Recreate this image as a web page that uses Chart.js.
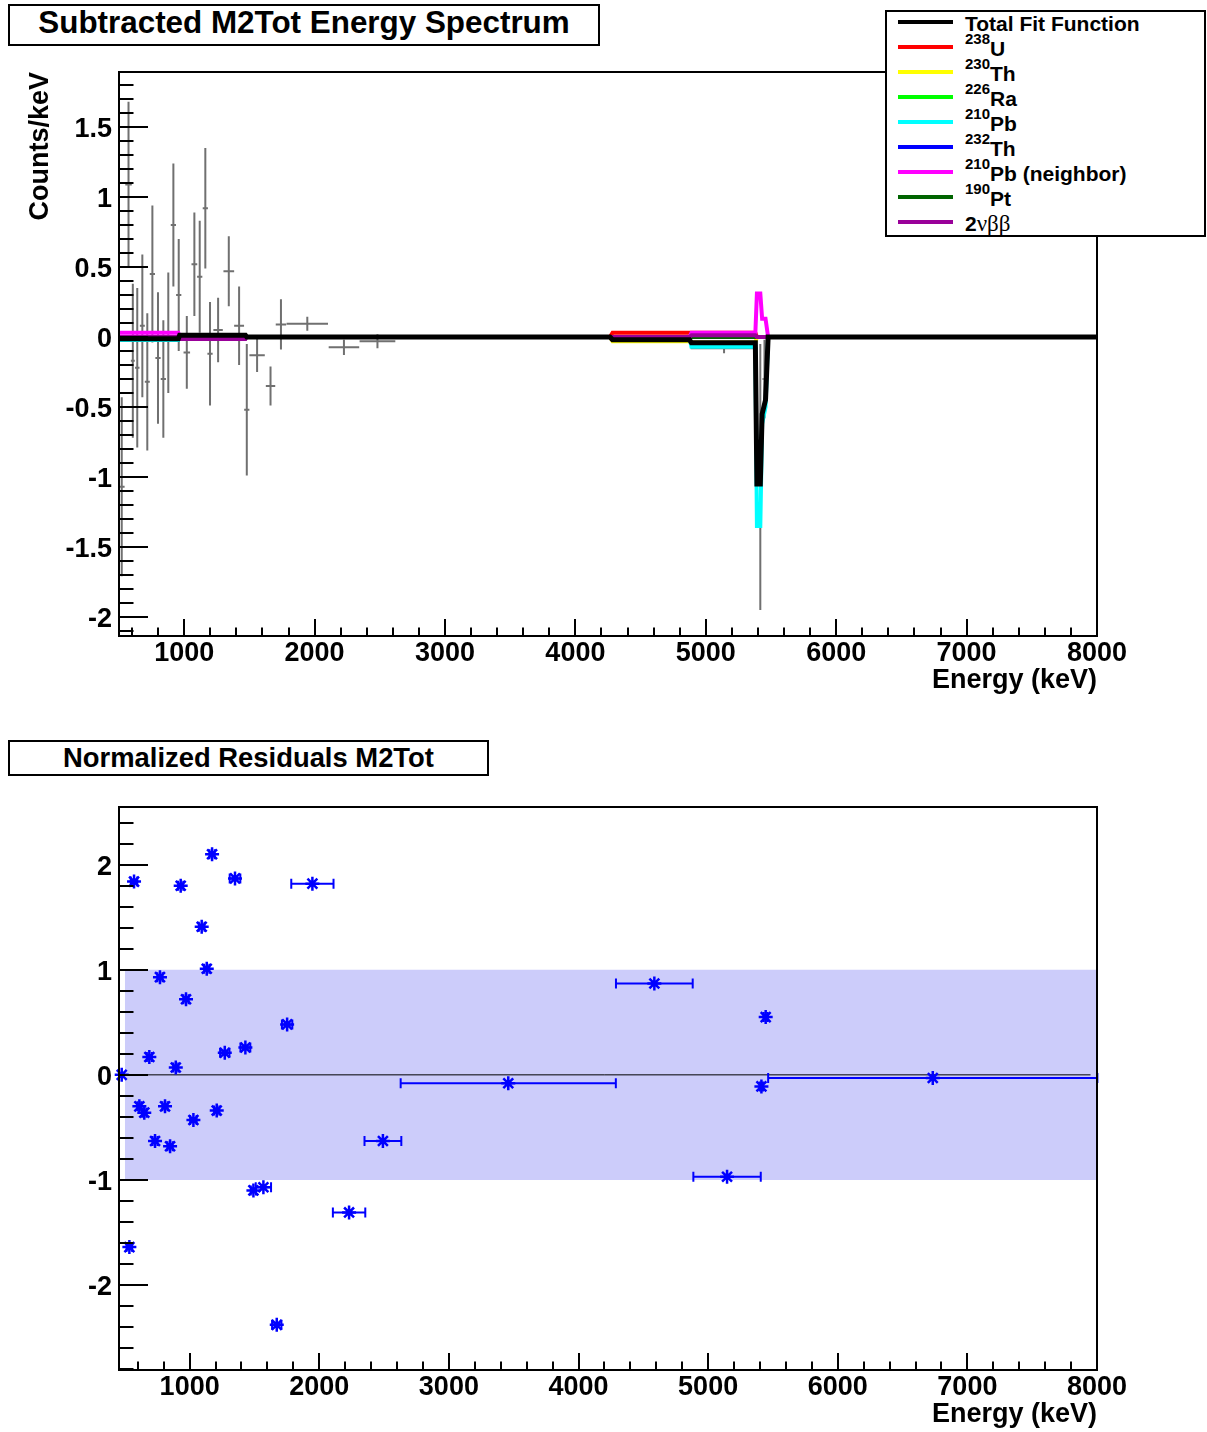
<!DOCTYPE html>
<html>
<head>
<meta charset="utf-8">
<title>Subtracted M2Tot Energy Spectrum</title>
<script src="https://cdn.jsdelivr.net/npm/chart.js@4.4.1/dist/chart.umd.min.js"></script>
<style>
  html, body { margin: 0; padding: 0; background: #fff; }
  body { position: relative; width: 1207px; height: 1432px; overflow: hidden;
         font-family: "Liberation Sans", Arial, Helvetica, sans-serif; color: #000; }
  canvas { position: absolute; left: 0; }
  #topPlot { top: 0; }
  #botPlot { top: 720px; }
  .pave { position: absolute; box-sizing: border-box; border: 2px solid #000;
          background: #fff; font-weight: bold; white-space: nowrap; }
  #title1 { left: 8px; top: 4px; width: 592px; height: 42px; line-height: 34px;
            font-size: 31.4px; text-align: center; }
  #title2 { left: 8px; top: 740px; width: 481px; height: 36px; line-height: 32px;
            font-size: 27.4px; text-align: center; }
  #legend { left: 885px; top: 10px; width: 321px; height: 227px; font-size: 21px; }
  #legend .row { position: absolute; left: 0; width: 100%; height: 24px; }
  #legend .sw { position: absolute; left: 11px; top: 10px; width: 55px; height: 4px; }
  #legend .lab { position: absolute; left: 78px; top: 2px; line-height: 24px; }
  #legend sup { font-size: 15px; vertical-align: baseline; position: relative; top: -12px; }
  #legend .sym { font-family: "Liberation Serif", "DejaVu Serif", serif; font-weight: normal; font-size: 23px; }
</style>
</head>
<body>
<canvas id="topPlot" width="1207" height="720"></canvas>
<canvas id="botPlot" width="1207" height="712"></canvas>
<div class="pave" id="title1">Subtracted M2Tot Energy Spectrum</div>
<div class="pave" id="title2">Normalized Residuals M2Tot</div>
<div class="pave" id="legend"></div>
<script>
// ---- axis tick labels ----
const energyTicks = [1000, 2000, 3000, 4000, 5000, 6000, 7000, 8000];
const countTicks = [-2, -1.5, -1, -0.5, 0, 0.5, 1, 1.5];
const residTicks = [-2, -1, 0, 1, 2];

// ---- top pad: subtracted spectrum, one entry per bin (keV, counts/keV) ----
const binCentre = [521, 573, 606, 640, 679, 717, 756, 799, 840, 878, 917, 958, 1020, 1078, 1119, 1162, 1198,
                   1260, 1342, 1421, 1480, 1559, 1662, 1742, 1944, 2225, 2482, 3457, 4588, 5140, 5418, 5450, 6740];
const binHalf = [22, 25, 15, 17, 19, 19, 20, 20, 20, 19, 20, 20, 25, 22, 20, 20, 20,
                 36, 41, 38, 20, 59, 36, 40, 159, 117, 137, 830, 300, 256, 12, 15, 1265];
const counts = [-1.07, 1.09, -0.17, -0.22, 0.08, -0.32, 0.45, -0.15, -0.30, 0.03, 0.80, 0.30, -0.11, 0.52, 0.43, 0.92, -0.12,
                0.05, 0.47, 0.08, -0.52, -0.13, -0.35, 0.09, 0.095, -0.074, -0.031, -0.001, -0.022, -0.08, -1.0, -0.30, 0.0];
const countsErr = [0.64, 0.59, 0.55, 0.57, 0.51, 0.49, 0.49, 0.47, 0.42, 0.43, 0.44, 0.40, 0.26, 0.37, 0.40, 0.43, 0.37,
                   0.23, 0.25, 0.28, 0.47, 0.12, 0.14, 0.18, 0.05, 0.054, 0.05, 0.012, 0.01, 0.036, 0.95, 0.28, 0.004];

// fit components, sampled on a common energy grid
const fitEnergy = [500, 955, 965, 1470, 1480, 4265, 4285, 4875, 4890, 5380, 5392, 5418, 5432, 5458, 5478, 8000];
const fitTotal  = [-0.012, -0.012, 0.012, 0.012, 0, 0, -0.02, -0.02, -0.042, -0.042, -1.05, -1.05, -0.55, -0.45, 0, 0];
const fitU238   = [0, 0, 0, 0, 0, 0, 0.03, 0.03, 0.03, 0.03, 0, 0, 0, 0, 0, 0];
const fitTh230  = [0, 0, 0, 0, 0, 0, -0.03, -0.03, -0.04, -0.04, 0, 0, 0, 0, 0, 0];
const fitRa226  = [0, 0, 0, 0, 0, 0, 0, 0, 0, 0, 0, 0, 0, 0, 0, 0];
const fitPb210  = [-0.022, -0.022, 0, 0, 0, 0, 0, 0, -0.07, -0.07, -1.35, -1.35, -0.62, -0.5, 0, 0];
const fitTh232  = [0, 0, 0, 0, 0, 0, 0, 0, 0, 0, 0, 0, 0, 0, 0, 0];
const fitPb210n = [0.03, 0.03, 0, 0, 0, 0, 0, 0, 0.03, 0.03, 0.31, 0.31, 0.13, 0.13, 0, 0];
const fitPt190  = [0, 0, 0, 0, 0, 0, 0, 0, 0, 0, 0, 0, 0, 0, 0, 0];
const fit2vbb   = [0, 0, -0.015, -0.015, 0, 0, 0, 0, 0.012, 0.012, 0, 0, 0, 0, 0, 0];

const compNames = ['Total Fit Function', '<sup>238</sup>U', '<sup>230</sup>Th', '<sup>226</sup>Ra', '<sup>210</sup>Pb',
                   '<sup>232</sup>Th', '<sup>210</sup>Pb (neighbor)', '<sup>190</sup>Pt', '2<span class="sym">&nu;&beta;&beta;</span>'];
const compColors = ['#000000', '#ff0000', '#ffff00', '#00ff00', '#00ffff', '#0000ff', '#ff00ff', '#006400', '#990099'];
const compValues = [fitTotal, fitU238, fitTh230, fitRa226, fitPb210, fitTh232, fitPb210n, fitPt190, fit2vbb];

// ---- bottom pad: normalized residuals ----
const resCentre = [476, 535, 571, 612, 650, 689, 733, 771, 810, 849, 893, 931, 972, 1029, 1093, 1132, 1173, 1209,
                   1271, 1350, 1430, 1492, 1569, 1672, 1752, 1947, 2230, 2491, 3458, 4585, 5146, 5411, 5444, 6733];
const resHalf = [0, 22, 25, 15, 17, 19, 19, 20, 20, 20, 19, 20, 20, 25, 22, 20, 20, 20,
                 36, 41, 38, 20, 59, 36, 40, 163, 125, 142, 830, 296, 260, 12, 15, 1270];
const residual = [0, -1.64, 1.84, -0.30, -0.36, 0.17, -0.63, 0.93, -0.30, -0.68, 0.07, 1.80, 0.72, -0.43, 1.41, 1.01, 2.10, -0.34,
                  0.21, 1.87, 0.26, -1.10, -1.07, -2.38, 0.48, 1.82, -1.31, -0.63, -0.08, 0.87, -0.97, -0.11, 0.55, -0.03];

Chart.defaults.font.family = '"Liberation Sans", Arial, Helvetica, sans-serif';
Chart.defaults.color = '#000';

var tickFont = { size: 27, weight: 'bold' };

function pts(xs, ys) {
    return xs.map(function (x, i) { return { x: x, y: ys[i] }; });
}

// ROOT style frame: box round the pad plus ticks pointing inwards
var rootFrame = {
    id: 'rootFrame',
    afterDatasetsDraw: function (chart, args, o) {
        var ctx = chart.ctx, a = chart.chartArea, xs = chart.scales.x, ys = chart.scales.y;
        ctx.save();
        ctx.strokeStyle = '#000';
        ctx.lineWidth = 2;
        ctx.beginPath();
        var n, v, p, major;
        for (n = Math.ceil(ys.min / o.yMinor - 1e-9); n <= Math.floor(ys.max / o.yMinor + 1e-9); n++) {
            v = n * o.yMinor;
            major = Math.abs(v / o.yMajor - Math.round(v / o.yMajor)) < 1e-6;
            p = Math.round(ys.getPixelForValue(v));
            ctx.moveTo(a.left, p);
            ctx.lineTo(a.left + (major ? o.yLen : o.yLen / 2), p);
        }
        for (n = Math.ceil(xs.min / o.xMinor - 1e-9); n <= Math.floor(xs.max / o.xMinor + 1e-9); n++) {
            v = n * o.xMinor;
            major = Math.abs(v / o.xMajor - Math.round(v / o.xMajor)) < 1e-6;
            p = Math.round(xs.getPixelForValue(v));
            ctx.moveTo(p, a.bottom);
            ctx.lineTo(p, a.bottom - (major ? o.xLen : o.xLen / 2));
        }
        ctx.stroke();
        ctx.strokeRect(a.left, a.top, a.right - a.left, a.bottom - a.top);
        ctx.restore();
    }
};

// grey data points with x and y error bars, drawn under the fit curves
var dataBars = {
    id: 'dataBars',
    beforeDatasetsDraw: function (chart) {
        var ctx = chart.ctx, a = chart.chartArea, x = chart.scales.x, y = chart.scales.y;
        ctx.save();
        ctx.beginPath();
        ctx.rect(a.left, a.top, a.right - a.left, a.bottom - a.top);
        ctx.clip();
        ctx.strokeStyle = '#707070';
        ctx.lineWidth = 2;
        ctx.beginPath();
        binCentre.forEach(function (c, i) {
            var px = x.getPixelForValue(c), py = y.getPixelForValue(counts[i]);
            ctx.moveTo(px, y.getPixelForValue(counts[i] - countsErr[i]));
            ctx.lineTo(px, y.getPixelForValue(counts[i] + countsErr[i]));
            ctx.moveTo(x.getPixelForValue(c - binHalf[i]), py);
            ctx.lineTo(x.getPixelForValue(c + binHalf[i]), py);
        });
        ctx.stroke();
        ctx.restore();
    }
};

// horizontal (bin width) bars on the residual points
var resBars = {
    id: 'resBars',
    afterDatasetsDraw: function (chart) {
        var ctx = chart.ctx, a = chart.chartArea, x = chart.scales.x, y = chart.scales.y;
        ctx.save();
        ctx.beginPath();
        ctx.rect(a.left, a.top, a.right - a.left + 2, a.bottom - a.top);
        ctx.clip();
        ctx.strokeStyle = '#0000ff';
        ctx.lineWidth = 2;
        ctx.beginPath();
        resCentre.forEach(function (c, i) {
            if (!resHalf[i]) return;
            var py = y.getPixelForValue(residual[i]);
            var x0 = x.getPixelForValue(c - resHalf[i]), x1 = x.getPixelForValue(c + resHalf[i]);
            ctx.moveTo(x0, py); ctx.lineTo(x1, py);
            ctx.moveTo(x0, py - 5); ctx.lineTo(x0, py + 5);
            ctx.moveTo(x1, py - 5); ctx.lineTo(x1, py + 5);
        });
        ctx.stroke();
        ctx.restore();
    }
};

function xScale(min, height, titlePad) {
    return {
        type: 'linear', position: 'bottom', min: min, max: 8000,
        grid: { display: false }, border: { display: false },
        afterBuildTicks: function (s) { s.ticks = energyTicks.map(function (v) { return { value: v }; }); },
        afterFit: function (s) { s.height = height; },
        ticks: { font: tickFont, autoSkip: false, maxRotation: 0, padding: -7,
                 callback: function (v) { return String(v); } },
        title: { display: true, text: 'Energy (keV)', align: 'end', font: tickFont,
                 padding: { top: 0, bottom: titlePad } }
    };
}

function yScale(min, max, tickList, title) {
    return {
        type: 'linear', position: 'left', min: min, max: max,
        grid: { display: false }, border: { display: false },
        afterBuildTicks: function (s) { s.ticks = tickList.map(function (v) { return { value: v }; }); },
        afterFit: function (s) { s.width = 119; },
        ticks: { font: tickFont, autoSkip: false, padding: -1, labelOffset: 3,
                 callback: function (v) { return String(v); } },
        title: { display: !!title, text: title, align: 'end', font: tickFont,
                 padding: { top: 24, bottom: 0 } }
    };
}

// ---- top chart ----
var topSets = compValues.map(function (vals, i) {
    return {
        type: 'line',
        data: pts(fitEnergy, vals),
        borderColor: compColors[i],
        borderWidth: i === 0 ? 5 : 4,
        pointRadius: 0,
        tension: 0,
        fill: false,
        order: i === 0 ? 0 : 9 - i
    };
});

new Chart(document.getElementById('topPlot'), {
    type: 'line',
    data: { datasets: topSets },
    options: {
        responsive: false, animation: false, events: [], devicePixelRatio: 1,
        layout: { padding: { left: 0, top: 72, right: 110, bottom: 0 } },
        plugins: {
            legend: { display: false }, tooltip: { enabled: false },
            rootFrame: { xMajor: 1000, xMinor: 200, yMajor: 0.5, yMinor: 0.1, xLen: 17, yLen: 29 }
        },
        scales: { x: xScale(500, 84, 23), y: yScale(-2.136, 1.893, countTicks, 'Counts/keV') }
    },
    plugins: [dataBars, rootFrame]
});

// ---- bottom chart ----
new Chart(document.getElementById('botPlot'), {
    type: 'line',
    data: {
        datasets: [
            { data: pts(resCentre, residual), showLine: false, pointStyle: 'star', pointRadius: 7, clip: 10,
              borderColor: '#0000ff', backgroundColor: '#0000ff', pointBorderWidth: 2.5, order: 0 },
            { data: pts([455, 7950], [0, 0]), borderColor: '#000', borderWidth: 1, pointRadius: 0, order: 1 },
            { data: pts([500, 8000], [1, 1]), borderWidth: 0, pointRadius: 0, borderColor: 'rgba(0,0,0,0)',
              backgroundColor: 'rgb(204,204,250)', fill: { value: -1 }, order: 2 }
        ]
    },
    options: {
        responsive: false, animation: false, events: [], devicePixelRatio: 1,
        layout: { padding: { left: 0, top: 87, right: 110, bottom: 0 } },
        plugins: {
            legend: { display: false }, tooltip: { enabled: false },
            rootFrame: { xMajor: 1000, xMinor: 200, yMajor: 1, yMinor: 0.2, xLen: 17, yLen: 29 }
        },
        scales: { x: xScale(455, 62, 1), y: yScale(-2.81, 2.55, residTicks, '') }
    },
    plugins: [resBars, rootFrame]
});

// ---- legend pave ----
var leg = document.getElementById('legend');
compNames.forEach(function (name, i) {
    var row = document.createElement('div');
    row.className = 'row';
    row.style.top = (-2 + 25 * i) + 'px';
    row.innerHTML = '<span class="sw" style="background:' + compColors[i] + '"></span><span class="lab">' + name + '</span>';
    leg.appendChild(row);
});
</script>
</body>
</html>
